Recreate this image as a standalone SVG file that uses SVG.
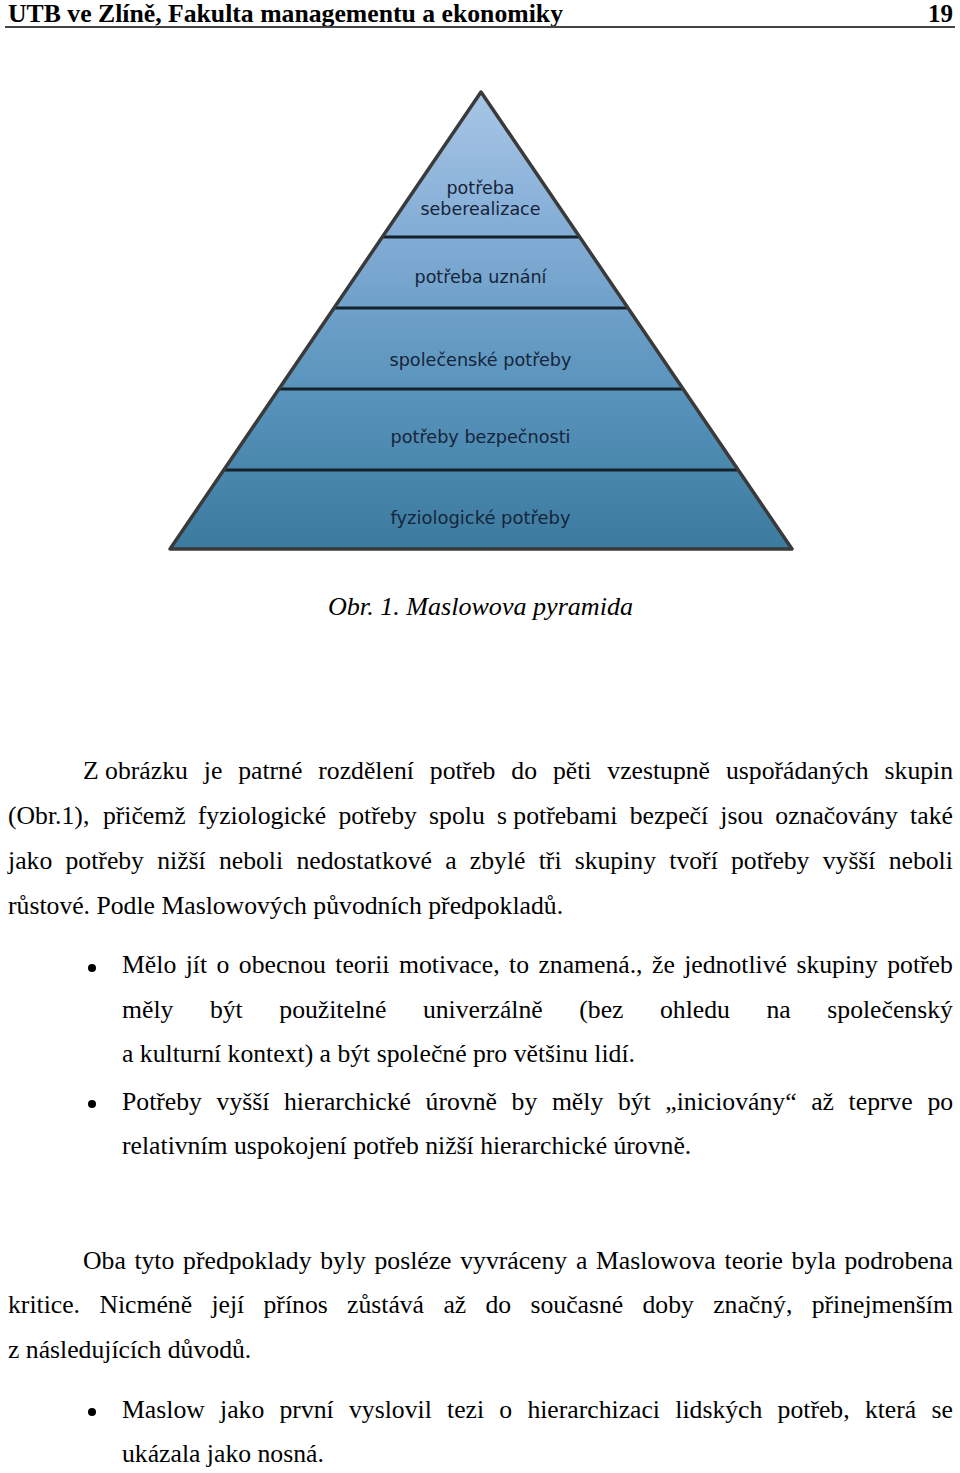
<svg xmlns="http://www.w3.org/2000/svg" width="960" height="1473" viewBox="0 0 960 1473">
<style>
.hd{font-family:"Liberation Serif","Times New Roman",serif;font-size:25px;font-weight:bold;fill:#000}
.t{font-family:"Liberation Serif","Times New Roman",serif;font-size:25.7px;fill:#000}
.cap{font-family:"Liberation Serif","Times New Roman",serif;font-size:26px;font-style:italic;fill:#000}
.pl{font-family:"DejaVu Sans",Verdana,sans-serif;font-size:17px;fill:#16243a;text-anchor:middle}
.band{fill:url(#pg)}
.sep{stroke:#14202a;stroke-width:3;fill:none}
.edge{stroke:#3a3a3a;stroke-width:3.5;fill:none;stroke-linejoin:round}
.bul{fill:#000}
</style>
<defs>
<linearGradient id="pg" gradientUnits="userSpaceOnUse" x1="0" y1="92" x2="0" y2="549">
<stop offset="0" stop-color="#a8c6e6"/>
<stop offset="0.33" stop-color="#80abd4"/>
<stop offset="0.66" stop-color="#5893bb"/>
<stop offset="1" stop-color="#3b7b9e"/>
</linearGradient>
</defs>
<rect width="960" height="1473" fill="#fff"/>
<g id="header">
<text class="hd" x="8" y="22" textLength="555" lengthAdjust="spacingAndGlyphs">UTB ve Zlíně, Fakulta managementu a ekonomiky</text>
<text class="hd" x="953" y="22" text-anchor="end">19</text>
<line x1="5" y1="27" x2="955" y2="27" stroke="#444" stroke-width="2"/>
</g>
<g id="pyramid">
<g id="level-5">
<polygon class="band" points="481,92 579.6,237 382.4,237"/>
<text class="pl" x="480.5" y="194" textLength="68" lengthAdjust="spacingAndGlyphs">potřeba</text>
<text class="pl" x="480.5" y="215" textLength="120" lengthAdjust="spacingAndGlyphs">seberealizace</text>
</g>
<g id="level-4">
<polygon class="band" points="382.4,237 579.6,237 627.9,308 334.1,308"/>
<text class="pl" x="480.5" y="283" textLength="132" lengthAdjust="spacingAndGlyphs">potřeba uznání</text>
</g>
<g id="level-3">
<polygon class="band" points="334.1,308 627.9,308 683,389 279,389"/>
<text class="pl" x="480.5" y="366" textLength="182" lengthAdjust="spacingAndGlyphs">společenské potřeby</text>
</g>
<g id="level-2">
<polygon class="band" points="279,389 683,389 738,470 224,470"/>
<text class="pl" x="480.5" y="443" textLength="180" lengthAdjust="spacingAndGlyphs">potřeby bezpečnosti</text>
</g>
<g id="level-1">
<polygon class="band" points="224,470 738,470 792,549 170,549"/>
<text class="pl" x="480.5" y="524" textLength="180" lengthAdjust="spacingAndGlyphs">fyziologické potřeby</text>
</g>
<g id="connectors">
<line class="sep" x1="382.4" y1="237" x2="579.6" y2="237"/>
<line class="sep" x1="334.1" y1="308" x2="627.9" y2="308"/>
<line class="sep" x1="279" y1="389" x2="683" y2="389"/>
<line class="sep" x1="224" y1="470" x2="738" y2="470"/>
<polygon class="edge" points="481,92 792,549 170,549"/>
</g>
</g>
<g id="caption">
<text class="cap" x="480.5" y="615" text-anchor="middle" textLength="305" lengthAdjust="spacingAndGlyphs">Obr. 1. Maslowova pyramida</text>
</g>
<g id="body">
<text class="t" y="779"><tspan x="83">Z obrázku</tspan><tspan x="203.8">je</tspan><tspan x="238.2">patrné</tspan><tspan x="318.3">rozdělení</tspan><tspan x="429.8">potřeb</tspan><tspan x="511.3">do</tspan><tspan x="552.9">pěti</tspan><tspan x="607.3">vzestupně</tspan><tspan x="726">uspořádaných</tspan><tspan x="884.6">skupin</tspan></text>
<text class="t" y="824"><tspan x="8">(Obr.1),</tspan><tspan x="102.9">přičemž</tspan><tspan x="197.8">fyziologické</tspan><tspan x="338.4">potřeby</tspan><tspan x="429.1">spolu</tspan><tspan x="496.9">s potřebami</tspan><tspan x="629.7">bezpečí</tspan><tspan x="720.3">jsou</tspan><tspan x="775.3">označovány</tspan><tspan x="910.1">také</tspan></text>
<text class="t" y="869"><tspan x="8">jako</tspan><tspan x="65.5">potřeby</tspan><tspan x="157.2">nižší</tspan><tspan x="218.9">neboli</tspan><tspan x="296.4">nedostatkové</tspan><tspan x="445.2">a</tspan><tspan x="469.8">zbylé</tspan><tspan x="538.7">tři</tspan><tspan x="574.7">skupiny</tspan><tspan x="669.3">tvoří</tspan><tspan x="731">potřeby</tspan><tspan x="822.7">vyšší</tspan><tspan x="888.7">neboli</tspan></text>
<text class="t" x="8" y="914">růstové. Podle Maslowových původních předpokladů.</text>

<circle class="bul" cx="92" cy="968" r="4"/>
<text class="t" y="973"><tspan x="122">Mělo</tspan><tspan x="185.7">jít</tspan><tspan x="216.5">o</tspan><tspan x="238.8">obecnou</tspan><tspan x="335.3">teorii</tspan><tspan x="399">motivace,</tspan><tspan x="509">to</tspan><tspan x="538.4">znamená.,</tspan><tspan x="652">že</tspan><tspan x="684.2">jednotlivé</tspan><tspan x="796.4">skupiny</tspan><tspan x="887.2">potřeb</tspan></text>
<text class="t" y="1018"><tspan x="122">měly</tspan><tspan x="209.9">být</tspan><tspan x="279.3">použitelné</tspan><tspan x="422.9">univerzálně</tspan><tspan x="579.3">(bez</tspan><tspan x="660">ohledu</tspan><tspan x="766.5">na</tspan><tspan x="827.3">společenský</tspan></text>
<text class="t" x="122" y="1062">a kulturní kontext) a být společné pro většinu lidí.</text>
<circle class="bul" cx="92" cy="1104" r="4"/>
<text class="t" y="1110"><tspan x="122">Potřeby</tspan><tspan x="216.6">vyšší</tspan><tspan x="284">hierarchické</tspan><tspan x="425.6">úrovně</tspan><tspan x="511.6">by</tspan><tspan x="551.9">měly</tspan><tspan x="617.9">být</tspan><tspan x="665.3">„iniciovány“</tspan><tspan x="811.2">až</tspan><tspan x="848.6">teprve</tspan><tspan x="927.4">po</tspan></text>
<text class="t" x="122" y="1154">relativním uspokojení potřeb nižší hierarchické úrovně.</text>

<text class="t" y="1269"><tspan x="83">Oba</tspan><tspan x="134.4">tyto</tspan><tspan x="183.1">předpoklady</tspan><tspan x="320.2">byly</tspan><tspan x="374.5">posléze</tspan><tspan x="460.2">vyvráceny</tspan><tspan x="575.9">a</tspan><tspan x="595.9">Maslowova</tspan><tspan x="724.5">teorie</tspan><tspan x="791.6">byla</tspan><tspan x="844.5">podrobena</tspan></text>
<text class="t" y="1313"><tspan x="8">kritice.</tspan><tspan x="99.4">Nicméně</tspan><tspan x="211.4">její</tspan><tspan x="263.5">přínos</tspan><tspan x="347">zůstává</tspan><tspan x="443.4">až</tspan><tspan x="485.5">do</tspan><tspan x="530.5">současné</tspan><tspan x="642.5">doby</tspan><tspan x="713.2">značný,</tspan><tspan x="811.7">přinejmenším</tspan></text>
<text class="t" x="8" y="1358">z následujících důvodů.</text>

<circle class="bul" cx="92" cy="1412" r="4"/>
<text class="t" y="1418"><tspan x="122">Maslow</tspan><tspan x="220">jako</tspan><tspan x="279.5">první</tspan><tspan x="349">vyslovil</tspan><tspan x="447">tezi</tspan><tspan x="499.3">o</tspan><tspan x="527.4">hierarchizaci</tspan><tspan x="675.3">lidských</tspan><tspan x="777.6">potřeb,</tspan><tspan x="864.9">která</tspan><tspan x="931.5">se</tspan></text>
<text class="t" x="122" y="1462">ukázala jako nosná.</text>
</g>
</svg>
